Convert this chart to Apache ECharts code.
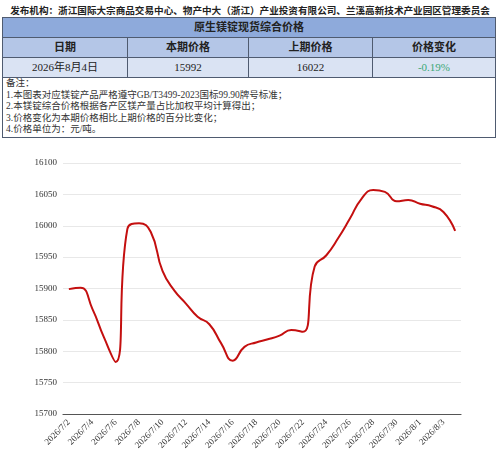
<!DOCTYPE html>
<html>
<head>
<meta charset="utf-8">
<script src="https://cdn.jsdelivr.net/npm/echarts@6/dist/echarts.min.js"></script>
<style>
  body { margin: 0; background: #fff; width: 500px; height: 454px; overflow: hidden; position: relative;
         font-family: "Liberation Serif", "Noto Sans CJK SC", serif; color: #222; }
  .abs { position: absolute; }
  #org { left: 0; top: 3px; width: 500px; text-align: center; font-size: 9.6px; font-weight: bold;
         white-space: nowrap; }
  #tbl { left: 2px; top: 17px; width: 492px; height: 119px; border: 1px solid #4f5b70; }
  .row { position: absolute; left: 0; width: 492px; height: 19px; border-bottom: 1px solid #4f5b70; }
  .cell { position: absolute; top: 0; height: 19px; line-height: 19px; text-align: center; font-size: 11px; }
  .sep { border-right: 1px solid #4f5b70; }
  #notes { left: 3px; top: 60px; font-size: 9.5px; line-height: 11.6px; color: #333; }
  #chart { left: 0; top: 140px; width: 500px; height: 314px; }
</style>
</head>
<body>
<div id="org" class="abs"></div>
<div id="tbl" class="abs">
  <div class="row" style="top:0;background:#8eaadb;">
    <div class="cell" id="tblTitle" style="left:0;width:492px;font-weight:bold;"></div>
  </div>
  <div class="row" id="headRow" style="top:20px;background:#b4c6e7;"></div>
  <div class="row" id="valRow" style="top:40px;background:#dae3f3;"></div>
  <div id="notes" class="abs"></div>
</div>
<div id="chart" class="abs"></div>
<script>
// 顶部文字
const orgText = "发布机构：浙江国际大宗商品交易中心、物产中大（浙江）产业投资有限公司、兰溪高新技术产业园区管理委员会";
const tableTitle = "原生镁锭现货综合价格";
const headers = ["日期", "本期价格", "上期价格", "价格变化"];
const rowValues = ["2026年8月4日", "15992", "16022", "-0.19%"];
const notes = [
    "备注：",
    "1.本图表对应镁锭产品严格遵守GB/T3499-2023国标99.90牌号标准；",
    "2.本镁锭综合价格根据各产区镁产量占比加权平均计算得出；",
    "3.价格变化为本期价格相比上期价格的百分比变化；",
    "4.价格单位为：元/吨。"
];

// 折线数据
const dates = [
    "2026/7/2", "2026/7/3", "2026/7/4", "2026/7/5", "2026/7/6", "2026/7/7", "2026/7/8", "2026/7/9",
    "2026/7/10", "2026/7/11", "2026/7/12", "2026/7/13", "2026/7/14", "2026/7/15", "2026/7/16", "2026/7/17",
    "2026/7/18", "2026/7/19", "2026/7/20", "2026/7/21", "2026/7/22", "2026/7/23", "2026/7/24", "2026/7/25",
    "2026/7/26", "2026/7/27", "2026/7/28", "2026/7/29", "2026/7/30", "2026/7/31", "2026/8/1", "2026/8/2",
    "2026/8/3", "2026/8/4"
];
const prices = [
    15899, 15901, 15868, 15822, 15783, 15995, 16004, 15990,
    15928, 15897, 15876, 15855, 15843, 15813, 15785, 15807,
    15814, 15819, 15825, 15834, 15831, 15935, 15953, 15980,
    16011, 16043, 16057, 16054, 16039, 16041, 16035, 16031,
    16022, 15992
];

// 表格
document.getElementById('org').textContent = orgText;
document.getElementById('tblTitle').textContent = tableTitle;
const colLeft = [0, 125, 246, 370];
const colWidth = [125, 121, 124, 122];
function fillRow(id, items, bold) {
    const row = document.getElementById(id);
    items.forEach((t, i) => {
        const c = document.createElement('div');
        c.className = 'cell' + (i < 3 ? ' sep' : '');
        c.style.left = colLeft[i] + 'px';
        c.style.width = (colWidth[i] - (i < 3 ? 1 : 0)) + 'px';
        if (bold) c.style.fontWeight = 'bold';
        c.textContent = t;
        row.appendChild(c);
    });
}
fillRow('headRow', headers, true);
fillRow('valRow', rowValues, false);
document.querySelector('#valRow .cell:last-child').style.color = '#3aa876';
document.getElementById('notes').innerHTML = notes.map(s => '<div>' + s + '</div>').join('');

// 折线图
const chart = echarts.init(document.getElementById('chart'));
const labelFont = { fontFamily: '"Liberation Serif", serif', fontSize: 9, color: '#333' };
chart.setOption({
    animation: false,
    grid: { left: 63, right: 39, top: 23, bottom: 40 },
    xAxis: [{
        type: 'category',
        data: dates,
        boundaryGap: true,
        axisLine: { lineStyle: { color: '#555', width: 1.2 } },
        axisTick: { interval: 1, length: 3, lineStyle: { color: '#555' } },
        axisLabel: Object.assign({ interval: 1, rotate: 45, margin: 7 }, labelFont)
    }, {
        // 轴线内侧的刻度
        type: 'category',
        data: dates,
        position: 'bottom',
        offset: 0,
        boundaryGap: true,
        axisLine: { show: false },
        axisTick: { inside: true, interval: 1, length: 3, lineStyle: { color: '#555' } },
        axisLabel: { show: false }
    }],
    yAxis: {
        type: 'value',
        min: 15700,
        max: 16100,
        interval: 50,
        axisLine: { show: false },
        axisTick: { show: false },
        axisLabel: Object.assign({ margin: 6, formatter: v => String(v) }, labelFont),
        splitLine: { lineStyle: { color: '#e8e8e8' } }
    },
    series: [{
        type: 'line',
        data: prices,
        smooth: 0.5,
        showSymbol: false,
        lineStyle: { color: '#c40f0f', width: 2 }
    }]
});
</script>
</body>
</html>
